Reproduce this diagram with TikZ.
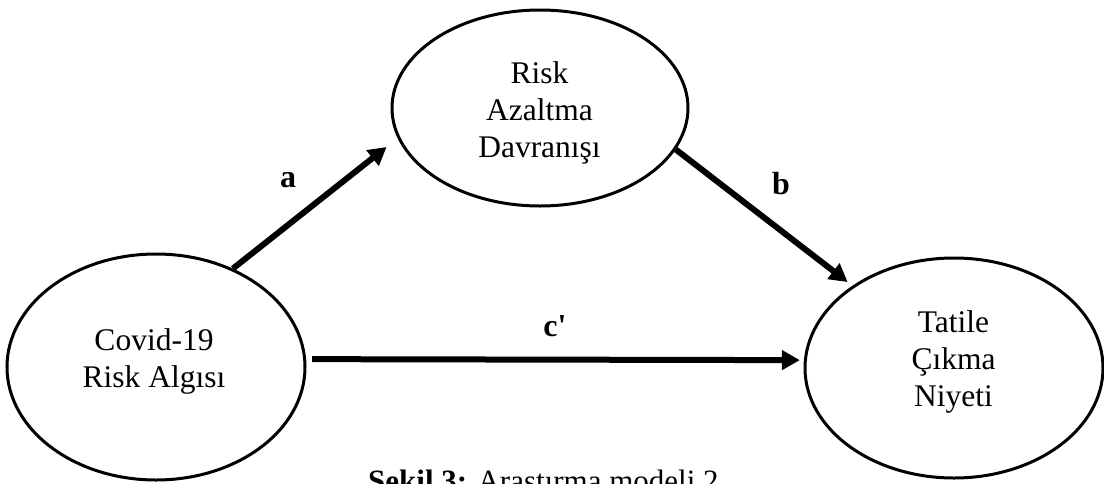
\documentclass[tikz,border=0pt]{standalone}
\usepackage{fontspec}
\setmainfont{Liberation Serif}
\usetikzlibrary{arrows.meta,shapes.geometric}

\begin{document}
\begin{tikzpicture}[x=1pt,y=-1pt,
  construct/.style={ellipse,draw=black,line width=3pt,inner sep=0pt},
  ctext/.style={font=\fontsize{31.5}{37}\selectfont,align=center,inner sep=0pt,anchor=north},
  path/.style={line width=6pt,-{Triangle[length=18pt,width=19pt]}},
  coef/.style={font=\fontsize{32}{36}\selectfont\bfseries,inner sep=0pt,anchor=base}]
  \useasboundingbox[fill=white] (0,0) rectangle (1104,483);

  % constructs
  \node[construct,minimum width=298pt,minimum height=226pt] (risk) at (156,367) {};
  \node[construct,minimum width=296pt,minimum height=196pt] (med)  at (540,108) {};
  \node[construct,minimum width=298pt,minimum height=220pt] (out)  at (954,368) {};

  \node[ctext] (risktext) at (154,328.5) {Covid-19\\Risk Algısı};
  \node[ctext] (medtext)  at (539.5,61.5) {Risk\\Azaltma\\Davranışı};
  \node[ctext] (outtext)  at (953.5,310.5) {Tatile\\Çıkma\\Niyeti};

  % paths
  \draw[path,shorten >=14pt] (risk.52) -- (med.192);
  \draw[path,shorten >=6pt] (med.-17) -- (out.141);
  \draw[path,shorten <=6pt,shorten >=4pt] (risk.3) -- (out.177);

  % coefficients
  \node[coef] (la) at (288,187) {a};
  \node[coef] (lb) at (781,194) {b};
  \node[coef] (lc) at (555,336) {c\textquotesingle};

  % caption
  \node[font=\fontsize{31}{36}\selectfont,inner sep=0pt,anchor=base west] (cap) at (368,491)
    {\textbf{Şekil 3:} Araştırma modeli 2};
\end{tikzpicture}
\end{document}
